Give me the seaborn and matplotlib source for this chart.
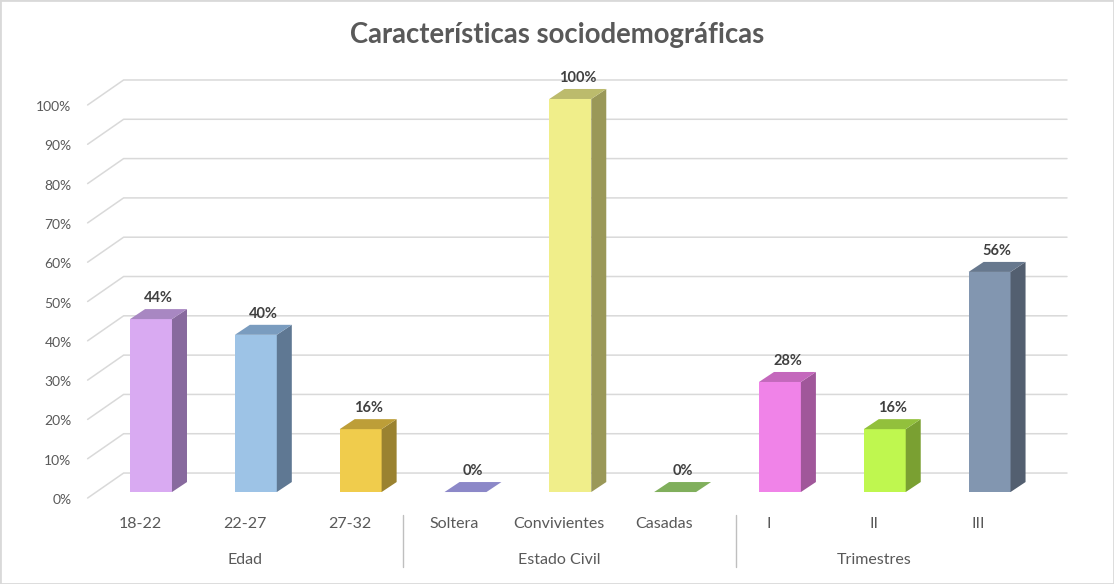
import matplotlib
matplotlib.use("Agg")
import matplotlib.pyplot as plt
import seaborn as sns
from matplotlib.patches import Polygon, Rectangle

# data
categories = ['18-22', '22-27', '27-32', 'Soltera', 'Convivientes', 'Casadas', 'I', 'II', 'III']
values = [44, 40, 16, 0, 100, 0, 28, 16, 56]
groups = ['Edad', 'Estado Civil', 'Trimestres']
group_centers = [1, 4, 7]
yticks = [0, 10, 20, 30, 40, 50, 60, 70, 80, 90, 100]

front_colors = ['#d9aaf2', '#9dc3e6', '#f0cc4c', '#8c88c8', '#f0ee8a', '#80af5c', '#f083e8', '#bff74f', '#8296b0']
side_colors = ['#886a9e', '#5f7893', '#9a8230', '#6b68a0', '#9a9858', '#5e8a40', '#a0579a', '#7aa032', '#535f70']
top_colors = ['#a887c2', '#7a9cbf', '#bd9e38', '#8c88c8', '#bcbb6c', '#80af5c', '#c468bc', '#92c03c', '#67788e']

sns.set_style('white')
plt.rcParams['font.family'] = ['Lato', 'DejaVu Sans']

fig = plt.figure(figsize=(11.14, 5.84), dpi=100)
ax = fig.add_axes([87.6 / 1114, (584 - 499.9) / 584, 979.4 / 1114, 424.5 / 584])

# pixel -> data conversions (x: 104.75 px per category, y: 3.93 px per %)
px_x = 1 / 104.75
px_y = 1 / 3.93

# back wall gridlines with perspective diagonal
for v in yticks:
    y_front = v - 6 * px_y
    y_back = v + 19 * px_y
    x_front = -0.5
    x_back = -0.5 + 36 * px_x
    ax.plot([x_front, x_back, 8.5 + 36 * px_x], [y_front, y_back, y_back],
            color='#d9d9d9', lw=1.1, zorder=0, clip_on=False)
    ax.text(-0.5 - 16 * px_x, v - 8 * px_y, f'{v}%', ha='right', va='center',
            fontsize=10, color='#595959')

sns.barplot(x=categories, y=values, hue=categories, palette=front_colors,
            legend=False, width=0.4, saturation=1, linewidth=0, ax=ax, zorder=2)

dx = 15 * px_x
dy = 10 * px_y
shift = 11 * px_x
for i, p in enumerate(ax.patches):
    p.set_x(p.get_x() + shift)
    p.set_linewidth(0)
    x0 = p.get_x()
    w = p.get_width()
    h = p.get_height()
    side = Polygon([(x0 + w, 0), (x0 + w + dx, dy), (x0 + w + dx, h + dy), (x0 + w, h)],
                   closed=True, facecolor=side_colors[i], edgecolor='none', zorder=2)
    top = Polygon([(x0, h), (x0 + w, h), (x0 + w + dx, h + dy), (x0 + dx, h + dy)],
                  closed=True, facecolor=top_colors[i], edgecolor='none', zorder=2.1)
    ax.add_patch(side)
    ax.add_patch(top)
    ax.text(x0 + (w + dx) / 2, h + dy + 1.0, f'{values[i]}%', ha='center', va='bottom',
            fontsize=10.5, fontweight='bold', color='#404040')

ax.set_xlim(-0.5, 8.5 + 36 * px_x)
ax.set_ylim(-2, 106)
ax.set_xticks([])
ax.set_yticks([])
ax.set_xlabel('')
ax.set_ylabel('')
sns.despine(ax=ax, left=True, bottom=True)

# category labels, group labels and separators
for i, c in enumerate(categories):
    ax.text(i, -32 * px_y, c, ha='center', va='center', fontsize=11.5, color='#595959', clip_on=False)
for g, c in zip(groups, group_centers):
    ax.text(c, -68 * px_y, g, ha='center', va='center', fontsize=11.5, color='#595959', clip_on=False)
for xs in [2.51, 5.69]:
    ax.plot([xs, xs], [-23 * px_y, -75 * px_y], color='#bfbfbf', lw=1, clip_on=False)

fig.text(0.5, 1 - 35 / 584, 'Características sociodemográficas', ha='center', va='center',
         fontsize=19.8, fontweight='bold', color='#595959')

fig.patches.append(Rectangle((0, 0), 1, 1, transform=fig.transFigure, fill=False,
                             edgecolor='#d9d9d9', lw=2))

fig.savefig('out.png', dpi=100)
